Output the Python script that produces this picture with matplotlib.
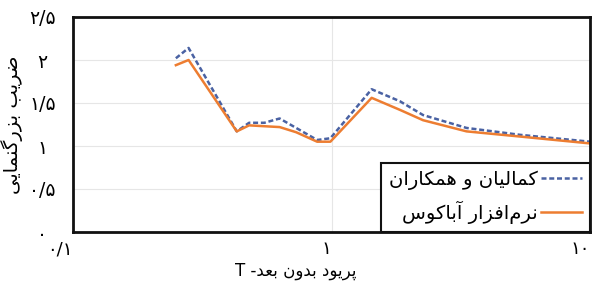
import matplotlib
matplotlib.use("Agg")
import matplotlib.pyplot as plt

plt.rcParams['font.family'] = ['DejaVu Sans']

# dimensionless period T and amplification factor
period = [0.25, 0.28, 0.43, 0.48, 0.55, 0.63, 0.73, 0.88, 0.99, 1.43, 1.84, 2.26, 3.33, 5.36, 10.0]
kamalian = [2.02, 2.14, 1.17, 1.27, 1.27, 1.32, 1.21, 1.07, 1.09, 1.66, 1.52, 1.36, 1.21, 1.13, 1.05]
abaqus = [1.94, 2.00, 1.17, 1.24, 1.23, 1.22, 1.16, 1.05, 1.05, 1.56, 1.42, 1.30, 1.17, 1.11, 1.03]

series_names = ["کمالیان و همکاران", "نرم‌افزار آباکوس"]
x_label = "پریود بدون بعد- T"
y_label = "ضریب بزرگنمایی"
y_ticks = [0, 0.5, 1, 1.5, 2, 2.5]
y_tick_labels = ["۰", "۰/۵", "۱", "۱/۵", "۲", "۲/۵"]
x_ticks = [0.1, 1, 10]
x_tick_labels = ["۰/۱", "۱", "۱۰"]

# matplotlib has no arabic shaping, so pick presentation forms by hand
# (isolated, final, initial, medial)
FORMS = {
    'ا': ('\uFE8D', '\uFE8E', None, None),
    'آ': ('\uFE81', '\uFE82', None, None),
    'ب': ('\uFE8F', '\uFE90', '\uFE91', '\uFE92'),
    'پ': ('\uFB56', '\uFB57', '\uFB58', '\uFB59'),
    'د': ('\uFEA9', '\uFEAA', None, None),
    'ر': ('\uFEAD', '\uFEAE', None, None),
    'ز': ('\uFEAF', '\uFEB0', None, None),
    'س': ('\uFEB1', '\uFEB2', '\uFEB3', '\uFEB4'),
    'ض': ('\uFEBD', '\uFEBE', '\uFEBF', '\uFEC0'),
    'ع': ('\uFEC9', '\uFECA', '\uFECB', '\uFECC'),
    'ف': ('\uFED1', '\uFED2', '\uFED3', '\uFED4'),
    'ک': ('\uFB8E', '\uFB8F', '\uFB90', '\uFB91'),
    'گ': ('\uFB92', '\uFB93', '\uFB94', '\uFB95'),
    'ل': ('\uFEDD', '\uFEDE', '\uFEDF', '\uFEE0'),
    'م': ('\uFEE1', '\uFEE2', '\uFEE3', '\uFEE4'),
    'ن': ('\uFEE5', '\uFEE6', '\uFEE7', '\uFEE8'),
    'ه': ('\uFEE9', '\uFEEA', '\uFEEB', '\uFEEC'),
    'و': ('\uFEED', '\uFEEE', None, None),
    'ی': ('\uFBFC', '\uFBFD', '\uFBFE', '\uFBFF'),
}


def rtl(text):
    out = []
    for i, c in enumerate(text):
        if c not in FORMS:
            if c != '\u200c':
                out.append(c)
            continue
        iso, fin, ini, med = FORMS[c]
        prev = text[i - 1] if i > 0 else None
        nxt = text[i + 1] if i + 1 < len(text) else None
        join_prev = prev in FORMS and FORMS[prev][2] is not None
        join_next = nxt in FORMS and ini is not None
        if join_prev and join_next:
            out.append(med)
        elif join_prev:
            out.append(fin)
        elif join_next:
            out.append(ini)
        else:
            out.append(iso)
    return ''.join(out)[::-1]


fig = plt.figure(figsize=(5.96, 2.81), dpi=100)
ax = fig.add_axes([73 / 596, 49 / 281, 517 / 596, 215 / 281])

ax.plot(period, kamalian, color='#4a62a3', lw=1.8, dashes=(2, 1.1), label=rtl(series_names[0]))
ax.plot(period, abaqus, color='#ed7d31', lw=1.8, label=rtl(series_names[1]))

ax.set_xscale('log')
ax.set_xlim(0.1, 10)
ax.set_ylim(0, 2.5)
ax.set_xticks(x_ticks)
ax.set_xticklabels(x_tick_labels, fontsize=13, ha='right')
ax.xaxis.set_minor_locator(matplotlib.ticker.NullLocator())
ax.set_yticks(y_ticks)
ax.set_yticklabels(y_tick_labels, fontsize=13.5, ha='center')
ax.tick_params(axis='both', length=0)
ax.tick_params(axis='y', pad=22)
ax.tick_params(axis='x', pad=6)

ax.grid(True, color='#e6e6e6', lw=0.8)
ax.set_axisbelow(True)
for s in ax.spines.values():
    s.set_linewidth(2)
    s.set_color('#111111')

ax.set_ylabel(rtl(y_label), fontsize=14, va='center')
ax.yaxis.set_label_coords(-0.118, 0.5)
ax.set_xlabel(rtl(x_label), fontsize=12, va='center')
ax.xaxis.set_label_coords(0.431, -0.18)

leg = ax.legend(loc='lower right', bbox_to_anchor=(1, 0), borderaxespad=0,
                markerfirst=False, alignment='right', fontsize=14, fancybox=False,
                framealpha=1, edgecolor='#111111', handlelength=2.1,
                labelspacing=0.55, handletextpad=0.2, borderpad=0.4)
leg.get_frame().set_linewidth(1.5)

fig.savefig('out.png', dpi=100)
